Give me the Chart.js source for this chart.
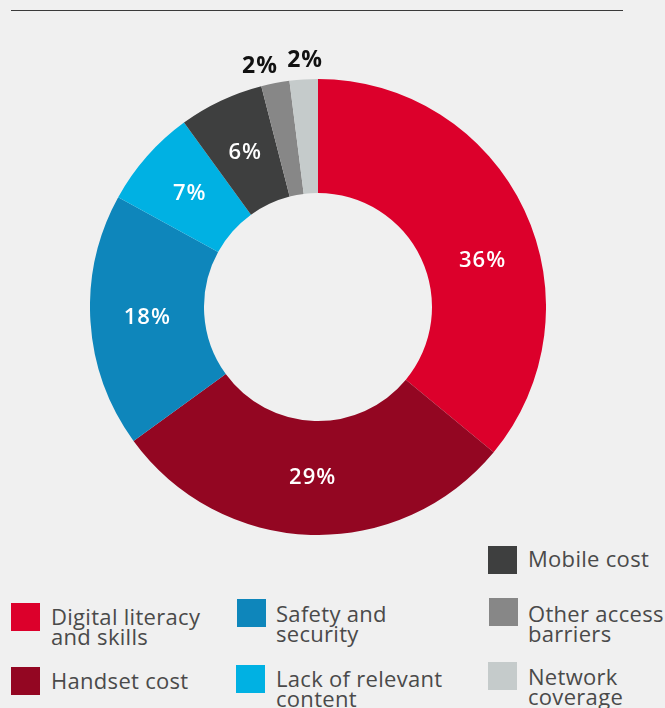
<!DOCTYPE html>
<html>
<head>
<meta charset="utf-8">
<script src="https://cdn.jsdelivr.net/npm/chart.js@4/dist/chart.umd.min.js"></script>
<style>
  html, body { margin: 0; padding: 0; background: #f0f0f0; }
  body { width: 665px; height: 708px; position: relative; overflow: hidden;
         font-family: "Open Sans", "Noto Sans", sans-serif; }
  .rule { position: absolute; left: 11px; top: 10px; width: 612px; height: 0;
          border-top: 1.5px solid #3a3a3a; }
  #wrap { position: absolute; left: 90px; top: 39px; width: 456px; height: 496px; }
  .swatch { position: absolute; width: 29px; height: 28px; }
  .text { position: absolute; font-size: 22px; line-height: 20px; color: #4a4a4a;
          white-space: nowrap; letter-spacing: 0.3px; }
</style>
</head>
<body>
<div class="rule"></div>
<div id="wrap"><canvas id="chart"></canvas></div>
<div id="legend"></div>
<script>
// Barriers to mobile internet use, share of respondents (%)
const categories = [
  ['Digital literacy', 'and skills'],
  ['Handset cost'],
  ['Safety and', 'security'],
  ['Lack of relevant', 'content'],
  ['Mobile cost'],
  ['Other access', 'barriers'],
  ['Network', 'coverage']
];
const shares = [36, 29, 18, 7, 6, 2, 2];
const sliceColors = ['#dc002b', '#930622', '#0e86bb', '#00b1e3', '#3e3f3f', '#878787', '#c5cbcb'];

// legend placement: swatch box and text block
const legendSlots = [
  { sx: 11,  sy: 603, tx: 51,  ty: 606 },
  { sx: 11,  sy: 667, tx: 51,  ty: 670 },
  { sx: 237, sy: 599, tx: 276, ty: 603 },
  { sx: 236, sy: 665, tx: 276, ty: 668 },
  { sx: 488, sy: 546, tx: 528, ty: 548 },
  { sx: 489, sy: 598, tx: 528, ty: 603 },
  { sx: 488, sy: 662, tx: 528, ty: 666 }
];

const legend = document.getElementById('legend');
categories.forEach((lines, i) => {
  const s = legendSlots[i];
  const sw = document.createElement('div');
  sw.className = 'swatch';
  sw.style.left = s.sx + 'px';
  sw.style.top = s.sy + 'px';
  sw.style.background = sliceColors[i];
  legend.appendChild(sw);
  const tx = document.createElement('div');
  tx.className = 'text';
  tx.style.left = s.tx + 'px';
  tx.style.top = s.ty + 'px';
  tx.innerHTML = lines.join('<br>');
  legend.appendChild(tx);
});

// percentage labels: inside the ring for large slices, above it for small ones
const sliceLabels = {
  id: 'sliceLabels',
  afterDatasetsDraw(chart, args, opts) {
    const ctx = chart.ctx;
    const meta = chart.getDatasetMeta(0);
    const data = chart.data.datasets[0].data;
    ctx.save();
    ctx.textAlign = 'center';
    ctx.textBaseline = 'middle';
    ctx.letterSpacing = '1px';
    meta.data.forEach((arc, i) => {
      const p = arc.getProps(['x', 'y', 'startAngle', 'endAngle', 'innerRadius', 'outerRadius'], true);
      const nudge = (opts.angleNudge[i] || 0) * Math.PI / 180;
      const a = (p.startAngle + p.endAngle) / 2 + nudge;
      const small = data[i] < opts.outsideBelow;
      const r = small ? p.outerRadius + opts.outsideGap : (p.innerRadius + p.outerRadius) / 2;
      const x = p.x + Math.cos(a) * r;
      const y = p.y + Math.sin(a) * r;
      ctx.font = small ? '700 23px "Open Sans", sans-serif' : '600 22px "Open Sans", sans-serif';
      ctx.fillStyle = small ? '#111111' : '#ffffff';
      ctx.fillText(data[i] + '%', x, y);
    });
    ctx.restore();
  }
};

new Chart(document.getElementById('chart'), {
  type: 'doughnut',
  data: {
    labels: categories,
    datasets: [{
      data: shares,
      backgroundColor: sliceColors,
      borderWidth: 0
    }]
  },
  options: {
    responsive: true,
    maintainAspectRatio: false,
    animation: false,
    cutout: '50%',
    layout: { padding: { top: 40 } },
    plugins: {
      legend: { display: false },
      tooltip: { enabled: false },
      sliceLabels: { angleNudge: [9.5, 0, 0, 0, 0, -2.8, 0.6], outsideBelow: 3, outsideGap: 19 }
    }
  },
  plugins: [sliceLabels]
});
</script>
</body>
</html>
